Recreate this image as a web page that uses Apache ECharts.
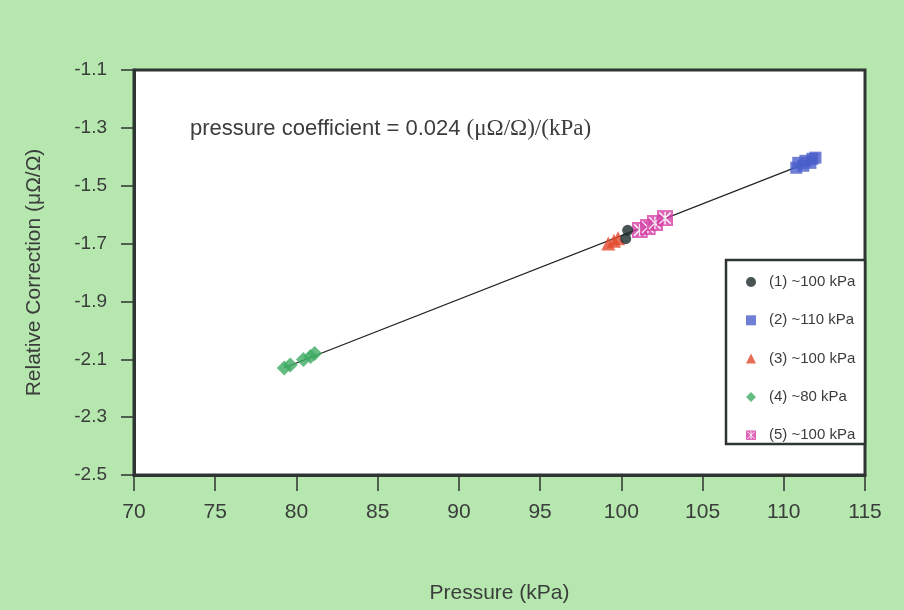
<!DOCTYPE html>
<html>
<head>
<meta charset="utf-8">
<script src="https://cdn.jsdelivr.net/npm/echarts@6/dist/echarts.min.js"></script>
<style>
  html, body { margin: 0; padding: 0; background: #b5e7ae; }
  #chart { width: 904px; height: 610px; }
</style>
</head>
<body>
<div id="chart"></div>
<script>
// Relative correction vs. pressure, five measurement groups
const xTicks = [70, 75, 80, 85, 90, 95, 100, 105, 110, 115];
const yTicks = [-2.5, -2.3, -2.1, -1.9, -1.7, -1.5, -1.3, -1.1];

const seriesNames = ['(1) ~100 kPa', '(2) ~110 kPa', '(3) ~100 kPa', '(4) ~80 kPa', '(5) ~100 kPa'];

// [pressure kPa, relative correction µΩ/Ω]
const group1 = [[100.27, -1.683], [100.39, -1.654]];
const group2 = [[110.77, -1.438], [110.89, -1.421], [111.20, -1.431], [111.33, -1.414], [111.64, -1.421], [111.76, -1.407], [111.95, -1.403]];
const group3 = [[99.20, -1.700], [99.55, -1.690], [99.80, -1.682]];
const group4 = [[79.25, -2.130], [79.62, -2.120], [80.43, -2.101], [80.87, -2.090], [81.12, -2.080]];
const group5 = [[101.14, -1.653], [101.63, -1.643], [102.07, -1.629], [102.69, -1.612]];

const coefText = 'pressure coefficient = 0.024 ';
const coefUnit = '(μΩ/Ω)/(kPa)';

// least-squares line through every measurement
const allPts = [].concat(group1, group2, group3, group4, group5);
function fitLine(pts) {
  const n = pts.length;
  let sx = 0, sy = 0, sxx = 0, sxy = 0;
  pts.forEach(p => { sx += p[0]; sy += p[1]; sxx += p[0] * p[0]; sxy += p[0] * p[1]; });
  const b = (n * sxy - sx * sy) / (n * sxx - sx * sx);
  const a = (sy - b * sx) / n;
  const xs = pts.map(p => p[0]);
  const x0 = Math.min.apply(null, xs), x1 = Math.max.apply(null, xs);
  return [[x0, a + b * x0], [x1, a + b * x1]];
}
const fit = fitLine(allPts);

// magenta square with a white star cross
const starSquare = 'image://data:image/svg+xml;utf8,' + encodeURIComponent(
  '<svg xmlns="http://www.w3.org/2000/svg" width="28" height="28" viewBox="0 0 28 28">' +
  '<rect x="0" y="0" width="28" height="28" fill="#d63fa6"/>' +
  '<path d="M4 4 L24 24 M24 4 L4 24 M14 3 L14 25" stroke="#ffffff" stroke-width="2.4"/>' +
  '</svg>');

const chart = echarts.init(document.getElementById('chart'));
const axisColor = '#2f3532';
const textColor = '#3a3d3b';
const labelFont = 'Liberation Sans, Arial, sans-serif';

chart.setOption({
  backgroundColor: '#b5e7ae',
  animation: false,
  grid: {
    left: 134, right: 39, top: 70, bottom: 135,
    show: true, backgroundColor: '#ffffff',
    borderColor: axisColor, borderWidth: 3
  },
  xAxis: {
    type: 'value', min: xTicks[0], max: xTicks[xTicks.length - 1], interval: 5,
    name: 'Pressure (kPa)', nameLocation: 'middle', nameGap: 108,
    nameTextStyle: { fontSize: 21, color: textColor, fontFamily: labelFont },
    axisLine: { show: true, lineStyle: { color: axisColor, width: 3 } },
    axisTick: { show: true, length: 16, lineStyle: { color: axisColor, width: 1.5 } },
    axisLabel: { fontSize: 21, color: textColor, margin: 27, fontFamily: labelFont },
    splitLine: { show: false }
  },
  yAxis: {
    type: 'value', min: yTicks[0], max: yTicks[yTicks.length - 1], interval: 0.2,
    name: 'Relative Correction (μΩ/Ω)', nameLocation: 'middle', nameGap: 89,
    nameTextStyle: { fontSize: 21, color: textColor, fontFamily: labelFont },
    axisLine: { show: true, lineStyle: { color: axisColor, width: 3 } },
    axisTick: { show: true, length: 13, lineStyle: { color: axisColor, width: 1.5 } },
    axisLabel: { fontSize: 19, color: textColor, margin: 27, fontFamily: labelFont,
      formatter: v => v.toFixed(1) },
    splitLine: { show: false }
  },
  legend: {
    orient: 'vertical', left: 746, top: 274,
    padding: 0,
    itemGap: 22.3, itemWidth: 10, itemHeight: 10,
    textStyle: { fontSize: 15, lineHeight: 16, color: textColor, fontFamily: labelFont,
      padding: [0, 0, 0, 8] },
    data: seriesNames,
    z: 5
  },
  graphic: [
    {
      type: 'rect', z: 3,
      shape: { x: 726, y: 260, width: 139, height: 184 },
      style: { fill: '#ffffff', stroke: axisColor, lineWidth: 2.5 }
    },
    {
      type: 'text', left: 190, top: 117,
      style: {
        text: '{a|' + coefText + '}{b|' + coefUnit + '}',
        rich: {
          a: { fontSize: 22, fill: textColor, fontFamily: labelFont },
          b: { fontSize: 23, fill: textColor, fontFamily: 'Liberation Serif, Times New Roman, serif' }
        }
      }
    }
  ],
  series: [
    {
      name: 'fit', type: 'line', data: fit, symbol: 'none',
      lineStyle: { color: '#222', width: 1.3 }, z: 1, silent: true
    },
    { name: seriesNames[3], type: 'scatter', data: group4, symbol: 'diamond', symbolSize: 15,
      itemStyle: { color: '#3dab63' }, z: 3 },
    { name: seriesNames[2], type: 'scatter', data: group3, symbol: 'triangle', symbolSize: 14,
      itemStyle: { color: '#e2482c' }, z: 3 },
    { name: seriesNames[0], type: 'scatter', data: group1, symbol: 'circle', symbolSize: 11,
      itemStyle: { color: '#1c2b2b' }, z: 4 },
    { name: seriesNames[4], type: 'scatter', data: group5, symbol: starSquare, symbolSize: 16, z: 3 },
    { name: seriesNames[1], type: 'scatter', data: group2, symbol: 'rect', symbolSize: 12,
      itemStyle: { color: '#4a5fca' }, z: 3 }
  ]
});
</script>
</body>
</html>
